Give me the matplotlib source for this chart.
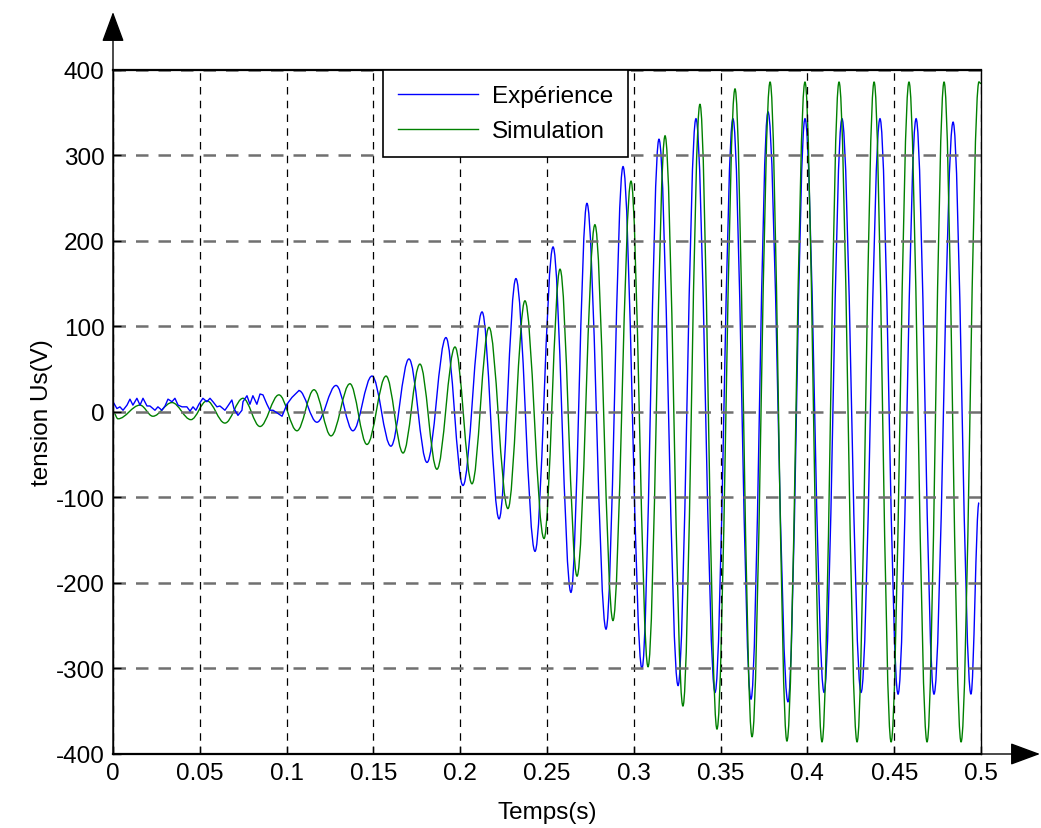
import matplotlib

matplotlib.use("Agg")
import matplotlib.pyplot as plt
from matplotlib.path import Path
from matplotlib.patches import PathPatch
from matplotlib.lines import Line2D

# Simulation (green): extrema, t in s, U in V
t_sim = [
    0.0000, 0.0029, 0.0156, 0.0230, 0.0340, 0.0449, 0.0541, 0.0645, 0.0749, 0.0847,
    0.0956, 0.1060, 0.1158, 0.1256, 0.1365, 0.1463, 0.1573, 0.1671, 0.1768, 0.1866,
    0.1970, 0.2068, 0.2166, 0.2275, 0.2373, 0.2483, 0.2575, 0.2673, 0.2776, 0.2880,
    0.2984, 0.3082, 0.3180, 0.3283, 0.3381, 0.3479, 0.3583, 0.3681, 0.3785, 0.3882,
    0.3986, 0.4084, 0.4182, 0.4286, 0.4384, 0.4482, 0.4585, 0.4689, 0.4787, 0.4885,
    0.4988, 0.5000,
]
u_sim = [
    1, -8, 8, -5, 11, -9, 13, -13, 16, -17,
    20, -22, 26, -28, 33, -38, 42, -48, 56, -67,
    76, -84, 99, -113, 130, -148, 167, -192, 219, -244,
    270, -298, 323, -344, 360, -371, 378, -380, 386, -385,
    386, -386, 386, -386, 386, -386, 386, -386, 386, -386,
    386, 384,
]

# Experience (blue): noisy start (plain line) ...
t_exp_noise = [
    0.0000, 0.0023, 0.0040, 0.0058, 0.0081, 0.0098, 0.0115, 0.0138, 0.0156, 0.0173,
    0.0196, 0.0213, 0.0242, 0.0259, 0.0282, 0.0300, 0.0317, 0.0340, 0.0357, 0.0375,
    0.0398, 0.0426, 0.0444, 0.0461, 0.0478, 0.0495, 0.0518, 0.0541, 0.0559, 0.0576,
    0.0599, 0.0616, 0.0645, 0.0662, 0.0685, 0.0697, 0.0720, 0.0743, 0.0749, 0.0772,
    0.0789, 0.0806, 0.0829, 0.0847, 0.0864, 0.0887, 0.0904, 0.0922, 0.0945, 0.0974,
    0.1002, 0.1031, 0.1071,
]
u_exp_noise = [
    12, 4, 6, 2, 8, 15, 8, 16, 8, 16,
    7, 7, 2, 6, 2, 7, 15, 12, 16, 8,
    6, 6, 1, 6, 2, 9, 16, 12, 16, 12,
    6, 7, 2, 7, 14, 4, -4, 2, 12, 19,
    9, 19, 9, 21, 20, 9, 2, 2, -1, -5,
    9, 17, 25,
]
# ... then the growing oscillation (extrema)
t_exp_osc = [
    0.1071, 0.1175, 0.1285, 0.1382, 0.1492, 0.1601, 0.1705, 0.1809,
    0.1918, 0.2016, 0.2126, 0.2224, 0.2321, 0.2431, 0.2535, 0.2638, 0.2730, 0.2840,
    0.2938, 0.3047, 0.3145, 0.3255, 0.3358, 0.3468, 0.3571, 0.3675, 0.3773, 0.3888,
    0.3986, 0.4096, 0.4199, 0.4309, 0.4418, 0.4522, 0.4626, 0.4729, 0.4839, 0.4942,
    0.4988,
]
u_exp_osc = [
    25, -12, 31, -22, 42, -40, 62, -59,
    87, -86, 117, -125, 156, -163, 193, -211, 244, -254,
    287, -300, 319, -320, 343, -328, 343, -336, 351, -339,
    343, -328, 343, -328, 343, -330, 343, -330, 339, -330,
    -106,
]

x_ticks = [0, 0.05, 0.1, 0.15, 0.2, 0.25, 0.3, 0.35, 0.4, 0.45, 0.5]
x_labels = ["0", "0.05", "0.1", "0.15", "0.2", "0.25", "0.3", "0.35", "0.4", "0.45", "0.5"]
y_ticks = [-400, -300, -200, -100, 0, 100, 200, 300, 400]

BLUE = "#0000ff"
GREEN = "#008000"


def wave_path(t, u, k=0.36):
    # cubic segments with flat tangents at each extremum
    verts = [(t[0], u[0])]
    codes = [Path.MOVETO]
    for i in range(len(t) - 1):
        dt = t[i + 1] - t[i]
        verts += [(t[i] + k * dt, u[i]), (t[i + 1] - k * dt, u[i + 1]), (t[i + 1], u[i + 1])]
        codes += [Path.CURVE4] * 3
    return Path(verts, codes)


plt.rcParams["font.family"] = ["Liberation Sans", "DejaVu Sans"]
plt.rcParams["font.size"] = 17.5
plt.rcParams["axes.unicode_minus"] = False

fig = plt.figure(figsize=(10.41, 8.29), dpi=100)
ax = fig.add_axes([0.1085, 0.0893, 0.8339, 0.8251])

ax.plot(t_exp_noise, u_exp_noise, color=BLUE, lw=1.0)
ax.add_patch(PathPatch(wave_path(t_exp_osc, u_exp_osc), fill=False, edgecolor=BLUE, lw=1.0))
ax.add_patch(PathPatch(wave_path(t_sim, u_sim), fill=False, edgecolor=GREEN, lw=1.0))

ax.set_xlim(0, 0.5)
ax.set_ylim(-400, 400)
ax.set_xticks(x_ticks)
ax.set_xticklabels(x_labels)
ax.set_yticks(y_ticks)
ax.tick_params(direction="in", length=6, width=1, pad=6)

ax.xaxis.grid(True, color="black", ls=(0, (6, 5)), lw=0.9)
ax.yaxis.grid(True, color="#707070", ls=(0, (5, 4)), lw=1.8)
for side in ("top", "bottom"):
    ax.spines[side].set_linewidth(1.6)
for side in ("left", "right"):
    ax.spines[side].set_linewidth(1.0)

ax.set_xlabel("Temps(s)", labelpad=12)
ax.set_ylabel("tension Us(V)", labelpad=2)

handles = [Line2D([], [], color=BLUE, lw=1.0), Line2D([], [], color=GREEN, lw=1.0)]
leg = ax.legend(handles, ["Expérience", "Simulation"], loc="upper left",
                bbox_to_anchor=(0.311, 1.0), borderaxespad=0, fancybox=False,
                edgecolor="black", framealpha=1, handlelength=3.3, borderpad=0.62,
                labelspacing=0.55, handletextpad=0.55)
leg.get_frame().set_linewidth(1.2)

# axis arrows
arrow = dict(arrowstyle="-|>,head_length=1.35,head_width=0.5", color="black",
             lw=1.0, shrinkA=0, shrinkB=0, mutation_scale=14)
ax.annotate("", xy=(113, 816), xytext=(113, 74), xycoords="figure pixels",
            textcoords="figure pixels", arrowprops=arrow)
ax.annotate("", xy=(1040, 74), xytext=(981, 74), xycoords="figure pixels",
            textcoords="figure pixels", arrowprops=arrow)

fig.savefig("out.png", dpi=100)
